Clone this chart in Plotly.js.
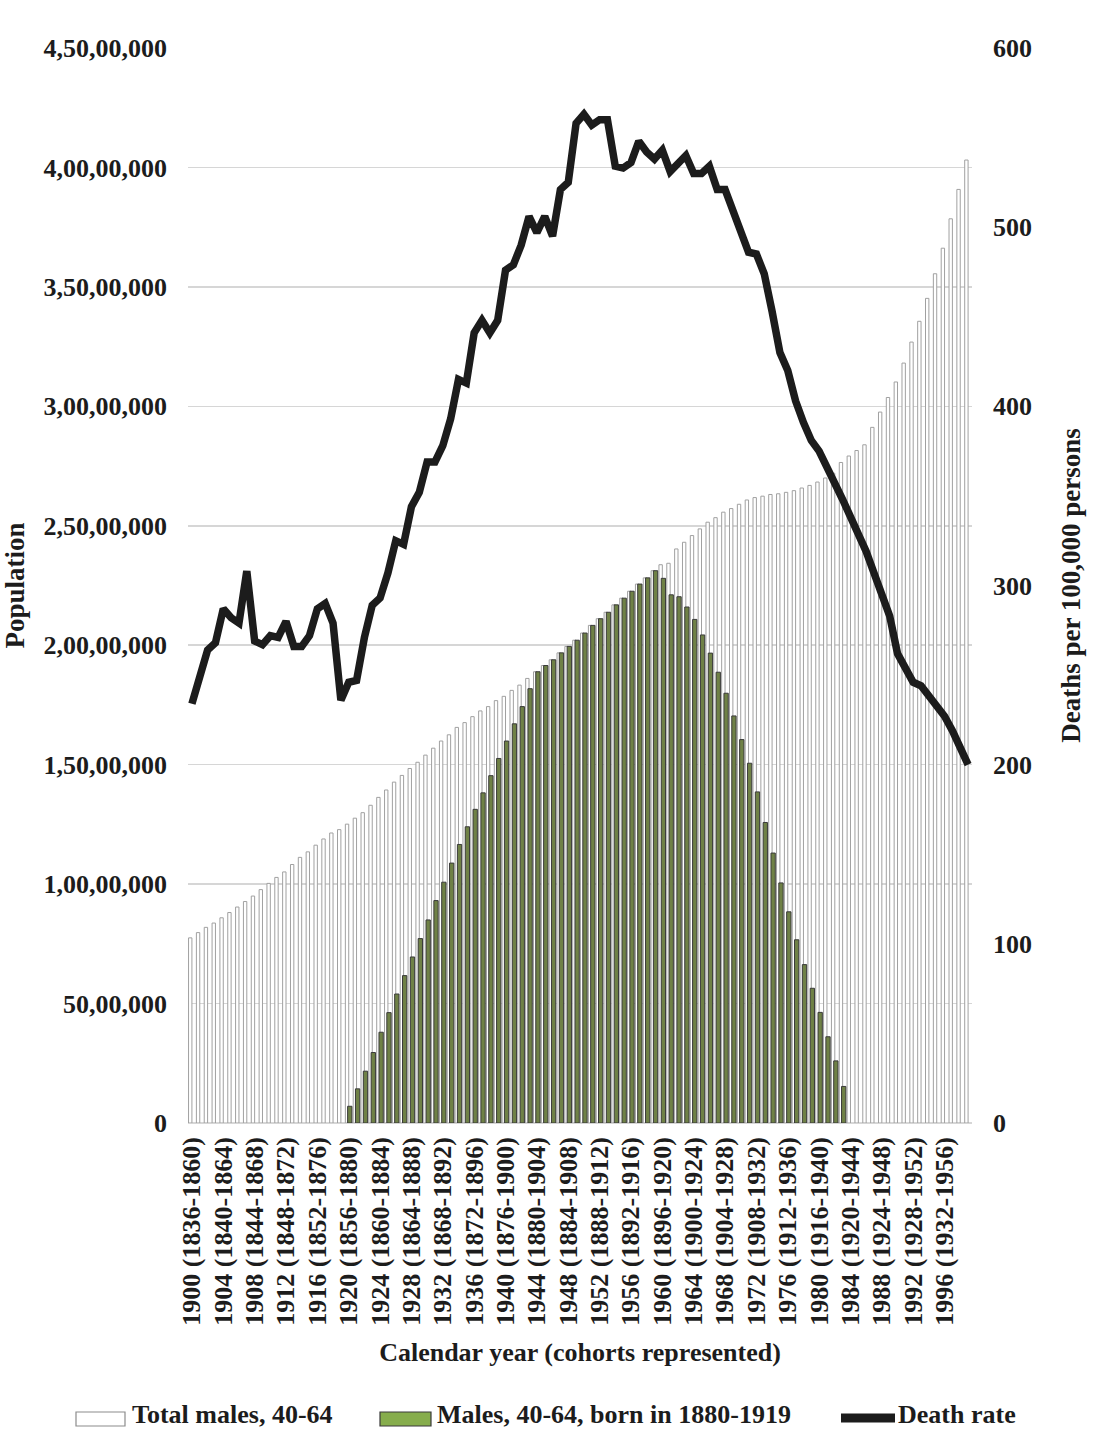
<!DOCTYPE html>
<html>
<head>
<meta charset="utf-8">
<script src="https://cdn.plot.ly/plotly-3.0.1.min.js"></script>
<style>
  html, body { margin: 0; padding: 0; background: #ffffff; }
  #chart { width: 1116px; height: 1429px; }
</style>
</head>
<body>
<div id="chart"></div>
<script>
// Calendar years shown on the horizontal axis
const years = [
  1900, 1901, 1902, 1903, 1904, 1905, 1906, 1907, 1908, 1909,
  1910, 1911, 1912, 1913, 1914, 1915, 1916, 1917, 1918, 1919,
  1920, 1921, 1922, 1923, 1924, 1925, 1926, 1927, 1928, 1929,
  1930, 1931, 1932, 1933, 1934, 1935, 1936, 1937, 1938, 1939,
  1940, 1941, 1942, 1943, 1944, 1945, 1946, 1947, 1948, 1949,
  1950, 1951, 1952, 1953, 1954, 1955, 1956, 1957, 1958, 1959,
  1960, 1961, 1962, 1963, 1964, 1965, 1966, 1967, 1968, 1969,
  1970, 1971, 1972, 1973, 1974, 1975, 1976, 1977, 1978, 1979,
  1980, 1981, 1982, 1983, 1984, 1985, 1986, 1987, 1988, 1989,
  1990, 1991, 1992, 1993, 1994, 1995, 1996, 1997, 1998, 1999
];

// Total males aged 40-64
const totalMales = [
   7750000,  7970000,  8190000,  8370000,  8590000,  8810000,  9040000,  9270000,  9500000,  9770000,
  10030000, 10280000, 10510000, 10820000, 11120000, 11350000, 11630000, 11890000, 12140000, 12280000,
  12510000, 12760000, 12990000, 13300000, 13630000, 13940000, 14270000, 14550000, 14840000, 15100000,
  15400000, 15690000, 15990000, 16250000, 16560000, 16760000, 17010000, 17250000, 17430000, 17680000,
  17860000, 18110000, 18330000, 18610000, 18890000, 19150000, 19390000, 19680000, 19950000, 20210000,
  20510000, 20830000, 21110000, 21380000, 21690000, 21970000, 22260000, 22560000, 22820000, 23120000,
  23370000, 23430000, 24030000, 24310000, 24590000, 24870000, 25150000, 25340000, 25570000, 25720000,
  25900000, 26080000, 26180000, 26240000, 26310000, 26340000, 26400000, 26470000, 26580000, 26690000,
  26830000, 27000000, 27200000, 27650000, 27920000, 28150000, 28390000, 29120000, 29760000, 30370000,
  31020000, 31810000, 32690000, 33560000, 34520000, 35550000, 36620000, 37850000, 39080000, 40310000
];

// Males aged 40-64 who were born in 1880-1919 (none before 1920 or after 1983)
const cohortMales = [
  null, null, null, null, null, null, null, null, null, null,
  null, null, null, null, null, null, null, null, null, null,
    700000,  1430000,  2170000,  2950000,  3800000,  4620000,  5400000,  6170000,  6950000,  7720000,
   8500000,  9310000, 10080000, 10880000, 11660000, 12400000, 13130000, 13820000, 14540000, 15260000,
  15990000, 16710000, 17430000, 18180000, 18890000, 19150000, 19390000, 19680000, 19950000, 20210000,
  20510000, 20830000, 21110000, 21380000, 21690000, 21970000, 22260000, 22560000, 22820000, 23120000,
  22800000, 22110000, 22030000, 21600000, 21080000, 20430000, 19670000, 18870000, 17990000, 17040000,
  16050000, 15060000, 13860000, 12580000, 11300000, 10050000,  8840000,  7670000,  6630000,  5640000,
   4630000,  3610000,  2600000,  1530000, null, null, null, null, null, null,
  null, null, null, null, null, null, null, null, null, null
];

// Death rate, deaths per 100,000 persons
const deathRate = [
  234, 249, 264, 268, 287, 282, 279, 308, 269, 267,
  272, 271, 280, 266, 266, 272, 287, 290, 279, 236,
  246, 247, 271, 289, 293, 307, 325, 323, 344, 352,
  369, 369, 378, 393, 415, 413, 441, 448, 441, 448,
  476, 479, 490, 506, 497, 506, 495, 521, 525, 558,
  563, 557, 560, 560, 534, 533, 536, 548, 542, 538,
  543, 531, 535, 540, 530, 530, 534, 521, 521, 509,
  497, 486, 485, 474, 453, 430, 420, 403, 391, 381,
  375, 367, 357, 348, 338, 330, 319, 307, 296, 283,
  262, 253, 246, 244, 238, 233, 227, 219, 210, 200
];

// Horizontal axis tick labels: calendar year (birth cohorts aged 40-64)
const xTickYears = [1900, 1904, 1908, 1912, 1916, 1920, 1924, 1928, 1932, 1936, 1940, 1944, 1948,
                    1952, 1956, 1960, 1964, 1968, 1972, 1976, 1980, 1984, 1988, 1992, 1996];
const xTickLabels = [
  '1900 (1836-1860)', '1904 (1840-1864)', '1908 (1844-1868)', '1912 (1848-1872)', '1916 (1852-1876)',
  '1920 (1856-1880)', '1924 (1860-1884)', '1928 (1864-1888)', '1932 (1868-1892)', '1936 (1872-1896)',
  '1940 (1876-1900)', '1944 (1880-1904)', '1948 (1884-1908)', '1952 (1888-1912)', '1956 (1892-1916)',
  '1960 (1896-1920)', '1964 (1900-1924)', '1968 (1904-1928)', '1972 (1908-1932)', '1976 (1912-1936)',
  '1980 (1916-1940)', '1984 (1920-1944)', '1988 (1924-1948)', '1992 (1928-1952)', '1996 (1932-1956)'
];

// Population axis ticks, written with lakh/crore digit grouping
const popTickValues = [0, 5000000, 10000000, 15000000, 20000000, 25000000, 30000000, 35000000, 40000000, 45000000];
const popTickLabels = ['0', '50,00,000', '1,00,00,000', '1,50,00,000', '2,00,00,000',
                       '2,50,00,000', '3,00,00,000', '3,50,00,000', '4,00,00,000', '4,50,00,000'];

// Legend entries
const legendLabels = ['Total males, 40-64', 'Males, 40-64, born in 1880-1919', 'Death rate'];

const serif = 'Liberation Serif, "Times New Roman", Times, serif';
const ink = '#1c1c1c';

// Plot area geometry in pixels, used to place the legend below the axis
const M = { l: 188, r: 144, t: 48, b: 306 };
const W = 1116 - M.l - M.r;
const H = 1429 - M.t - M.b;
const px = x => (x - M.l) / W;
const py = y => (M.t + H - y) / H;

const traces = [
  {
    type: 'bar',
    name: legendLabels[0],
    x: years,
    y: totalMales,
    width: 0.43,
    offset: -0.43,
    marker: { color: '#ffffff', line: { color: '#a0a0a0', width: 1 } },
    showlegend: false,
    hoverinfo: 'x+y'
  },
  {
    type: 'bar',
    name: legendLabels[1],
    x: years,
    y: cohortMales,
    width: 0.55,
    offset: -0.14,
    marker: { color: '#6f8146', line: { color: '#3a3a3a', width: 1 } },
    showlegend: false,
    hoverinfo: 'x+y'
  },
  {
    type: 'scatter',
    mode: 'lines',
    name: legendLabels[2],
    x: years,
    y: deathRate,
    yaxis: 'y2',
    line: { color: ink, width: 7.5 },
    showlegend: false
  }
];

const legendFont = { family: serif, size: 26, color: ink, weight: 'bold' };
const legendY = 1414;
const layout = {
  width: 1116,
  height: 1429,
  margin: { l: M.l, r: M.r, t: M.t, b: M.b, pad: 0 },
  paper_bgcolor: '#ffffff',
  plot_bgcolor: '#ffffff',
  barmode: 'overlay',
  showlegend: false,
  font: { family: serif, color: ink, size: 26, weight: 'bold' },
  xaxis: {
    range: [1899.5, 1999.5],
    tickvals: xTickYears,
    ticktext: xTickLabels,
    tickangle: -90,
    tickfont: { family: serif, size: 26, color: ink, weight: 'bold' },
    ticks: '',
    ticklabelstandoff: 8,
    showgrid: false,
    zeroline: false,
    showline: false,
    automargin: false,
    title: {
      text: 'Calendar year (cohorts represented)',
      font: { family: serif, size: 26, color: ink, weight: 'bold' },
      standoff: 18
    }
  },
  yaxis: {
    range: [0, 45000000],
    tickvals: popTickValues,
    ticktext: popTickLabels,
    tickfont: { family: serif, size: 26, color: ink, weight: 'bold' },
    ticks: '',
    ticklabelstandoff: 20,
    showgrid: true,
    gridcolor: '#d6d6d6',
    gridwidth: 1.5,
    zeroline: true,
    zerolinecolor: '#d6d6d6',
    zerolinewidth: 1.5,
    showline: false,
    automargin: false,
    title: {
      text: 'Population',
      font: { family: serif, size: 27, color: ink, weight: 'bold' },
      standoff: 26
    }
  },
  yaxis2: {
    overlaying: 'y',
    side: 'right',
    range: [0, 600],
    tickvals: [0, 100, 200, 300, 400, 500, 600],
    tickfont: { family: serif, size: 26, color: ink, weight: 'bold' },
    ticks: '',
    ticklabelstandoff: 20,
    showgrid: false,
    zeroline: false,
    showline: false,
    automargin: false,
    title: {
      text: 'Deaths per 100,000 persons',
      font: { family: serif, size: 27, color: ink, weight: 'bold' },
      standoff: 30
    }
  },
  shapes: [
    { type: 'rect', xref: 'paper', yref: 'paper',
      x0: px(76), x1: px(125), y0: py(1426), y1: py(1412),
      fillcolor: '#ffffff', line: { color: '#8c8c8c', width: 1.2 } },
    { type: 'rect', xref: 'paper', yref: 'paper',
      x0: px(380), x1: px(431), y0: py(1426), y1: py(1412),
      fillcolor: '#86ad4c', line: { color: '#3b3b3b', width: 1.2 } },
    { type: 'line', xref: 'paper', yref: 'paper',
      x0: px(841), x1: px(895), y0: py(1418), y1: py(1418),
      line: { color: ink, width: 9 } }
  ],
  annotations: [
    { xref: 'paper', yref: 'paper', x: px(130), y: py(legendY), xanchor: 'left', yanchor: 'middle',
      text: legendLabels[0], showarrow: false, font: legendFont },
    { xref: 'paper', yref: 'paper', x: px(435), y: py(legendY), xanchor: 'left', yanchor: 'middle',
      text: legendLabels[1], showarrow: false, font: legendFont },
    { xref: 'paper', yref: 'paper', x: px(896), y: py(legendY), xanchor: 'left', yanchor: 'middle',
      text: legendLabels[2], showarrow: false, font: legendFont }
  ]
};

Plotly.newPlot('chart', traces, layout, { staticPlot: true, displayModeBar: false });
</script>
</body>
</html>
